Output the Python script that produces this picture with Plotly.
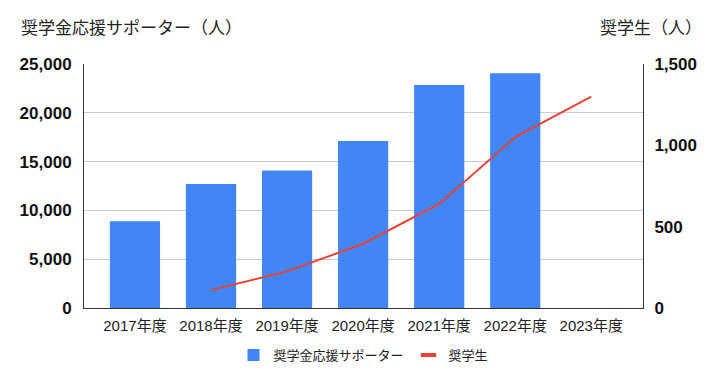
import plotly.graph_objects as go

years = ["2017年度", "2018年度", "2019年度", "2020年度", "2021年度", "2022年度", "2023年度"]
supporters = [8900, 12700, 14100, 17100, 22850, 24050, None]
scholars = [None, 110, 225, 395, 640, 1050, 1300]

num_font = "'Liberation Sans', Arial, 'Noto Sans CJK JP', sans-serif"
cjk_font = "'Liberation Sans', Arial, 'Noto Sans CJK JP', sans-serif"

# page body has an 8px margin, so the figure is sized/offset to compensate
W, H = 709, 375
L, R, T, B = 76, 74, 56, 75
pw = W - L - R
ph = H - T - B

fig = go.Figure()
fig.add_trace(go.Bar(
    x=years, y=supporters, name="奨学金応援サポーター",
    marker=dict(color="#4285F4", line=dict(width=0)), width=0.66,
))
fig.add_trace(go.Scatter(
    x=years, y=scholars, name="奨学生", mode="lines",
    line=dict(color="#EA4335", width=2), yaxis="y2", connectgaps=False,
    showlegend=False,
))
# legend entry: short thick dash like the reference
fig.add_trace(go.Scatter(
    x=[years[0]], y=[None], name="奨学生", mode="markers", yaxis="y2",
    marker=dict(symbol="line-ew", size=11, color="#EA4335",
                line=dict(color="#EA4335", width=4)),
    hoverinfo="skip",
))

fig.update_layout(
    width=W, height=H,
    margin=dict(l=L, r=R, t=T, b=B, autoexpand=False),
    paper_bgcolor="white", plot_bgcolor="white",
    font=dict(family=cjk_font, color="#222222"),
    showlegend=True,
    legend=dict(orientation="h", x=0.5, xanchor="center", y=-47 / ph, yanchor="middle",
                font=dict(size=13, color="#222222", family=cjk_font), itemwidth=30,
                tracegroupgap=0),
    xaxis=dict(
        type="category", range=[-0.67, 6.68],
        showline=True, linecolor="#333333", linewidth=1, mirror=False,
        showgrid=False, ticks="", ticklabelstandoff=4,
        tickfont=dict(size=15, color="#222222", family=cjk_font),
    ),
    yaxis=dict(
        range=[0, 25000], dtick=5000, tickformat=",",
        showline=True, linecolor="#333333", linewidth=1,
        gridcolor="#cccccc", gridwidth=1, zeroline=False,
        tickfont=dict(size=17, color="#111111", family=num_font, weight="bold"),
        ticks="", ticklabelstandoff=8,
    ),
    yaxis2=dict(
        range=[0, 1500], dtick=500, tickformat=",", overlaying="y", side="right",
        showline=True, linecolor="#333333", linewidth=1, showgrid=False, zeroline=False,
        tickfont=dict(size=17, color="#111111", family=num_font, weight="bold"),
        ticks="", ticklabelstandoff=7,
    ),
    annotations=[
        dict(text="奨学金応援サポーター（人）", xref="paper", yref="paper",
             x=(11 - L) / pw, y=1 + 36 / ph,
             xanchor="left", yanchor="middle", showarrow=False,
             font=dict(size=17, color="#222222", family=cjk_font)),
        dict(text="奨学生（人）", xref="paper", yref="paper",
             x=(696 - L) / pw, y=1 + 36 / ph,
             xanchor="right", yanchor="middle", showarrow=False,
             font=dict(size=17, color="#222222", family=cjk_font)),
    ],
)

fig.write_html("out.html")
